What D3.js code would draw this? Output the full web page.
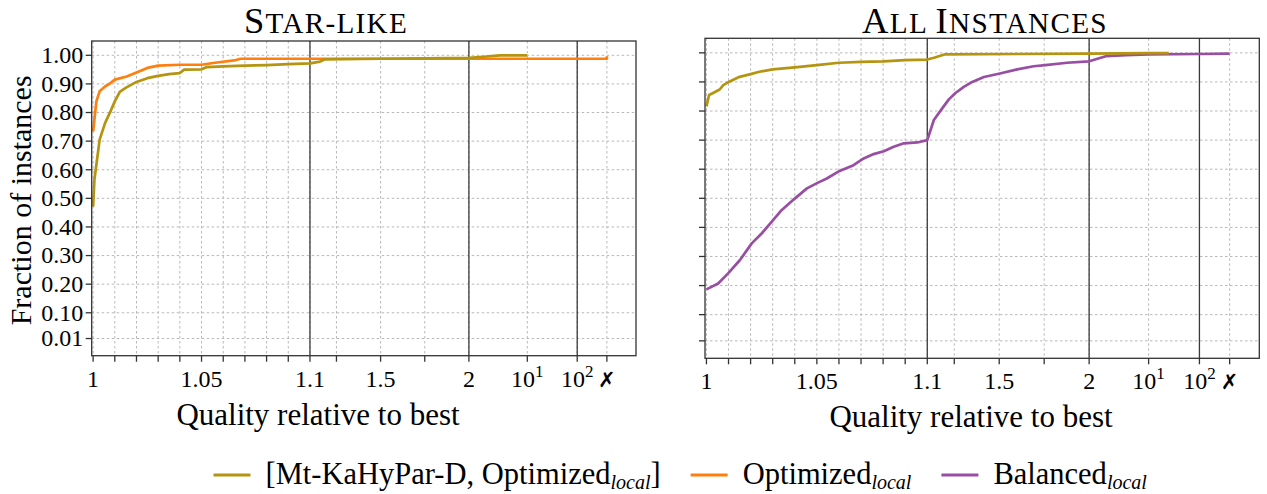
<!DOCTYPE html>
<html>
<head>
<meta charset="utf-8">
<script src="https://cdn.jsdelivr.net/npm/d3@7"></script>
<style>
  body { margin: 0; background: #fff; }
  svg { display: block; }
</style>
</head>
<body>
<svg id="chart" width="1267" height="494"></svg>
<script>
// Quality ratio used for instances that failed (drawn at the ✗ column).
const FAIL = Infinity;

// ---- Star-like instances ----
const starMtX  = [1, 1.0006, 1.0018, 1.003, 1.0055, 1.008, 1.01, 1.0123, 1.015, 1.02, 1.025, 1.03, 1.035,
                  1.04, 1.042, 1.05, 1.0525, 1.06, 1.07, 1.08, 1.09, 1.1, 1.157, 1.185, 1.5, 2, 3, 4.7, 10];
const starMtY  = [0.471, 0.565, 0.635, 0.705, 0.763, 0.804, 0.839, 0.872, 0.886, 0.907, 0.920, 0.928, 0.934,
                  0.938, 0.950, 0.951, 0.959, 0.961, 0.964, 0.966, 0.969, 0.972, 0.978, 0.986, 0.988, 0.991, 0.995, 1.0, 1.0];
const starOptX = [1, 1.0015, 1.003, 1.0055, 1.008, 1.01, 1.0155, 1.02, 1.025, 1.03, 1.04, 1.05, 1.0553,
                  1.065, 1.068, 2, 10, 100, FAIL, FAIL];
const starOptY = [0.734, 0.839, 0.874, 0.891, 0.903, 0.915, 0.926, 0.940, 0.956, 0.964, 0.967, 0.967, 0.973,
                  0.982, 0.988, 0.988, 0.988, 0.988, 0.988, 0.997];

// ---- All instances ----
const allMtX  = [1, 1.0012, 1.003, 1.006, 1.0076, 1.0101, 1.015, 1.02, 1.024, 1.03, 1.04, 1.05, 1.06,
                 1.07, 1.08, 1.09, 1.1, 1.137, 1.2, 2, 10, 25];
const allMtY  = [0.816, 0.855, 0.862, 0.874, 0.889, 0.900, 0.9175, 0.927, 0.935, 0.943, 0.950, 0.958, 0.966,
                 0.969, 0.971, 0.975, 0.977, 0.983, 0.995, 0.997, 0.999, 0.999];
const allBalX = [1, 1.0053, 1.0098, 1.0151, 1.0205, 1.025, 1.0295, 1.034, 1.040, 1.0455, 1.0503, 1.0545,
                 1.0603, 1.0666, 1.0712, 1.0757, 1.0803, 1.0848, 1.0894, 1.0955, 1.1, 1.1366, 1.183, 1.22,
                 1.257, 1.303, 1.35, 1.415, 1.504, 1.6, 1.692, 1.757, 1.877, 2, 3.21, 5.49, 10, 100, FAIL];
const allBalY = [0.187, 0.207, 0.242, 0.287, 0.345, 0.379, 0.419, 0.459, 0.499, 0.534, 0.553, 0.568,
                 0.594, 0.614, 0.637, 0.652, 0.662, 0.677, 0.689, 0.692, 0.700, 0.769, 0.809, 0.840,
                 0.862, 0.883, 0.900, 0.917, 0.929, 0.943, 0.954, 0.958, 0.966, 0.971, 0.989, 0.992, 0.995, 0.996, 0.997];

// ---- Axes ----
const xTickValues = [1, 1.01, 1.02, 1.03, 1.04, 1.05, 1.06, 1.07, 1.08, 1.09, 1.1, 1.25, 1.5, 1.75, 2, 10, 100, FAIL];
const xTickLabels = { 1: "1", 1.05: "1.05", 1.1: "1.1", 1.5: "1.5", 2: "2", 10: "10^1", 100: "10^2", [FAIL]: "✗" };
const xBreaks     = [1.1, 2, 100];
const yTickValues = [0.01, 0.1, 0.2, 0.3, 0.4, 0.5, 0.6, 0.7, 0.8, 0.9, 1.0];
const yTickLabels = ["0.01", "0.10", "0.20", "0.30", "0.40", "0.50", "0.60", "0.70", "0.80", "0.90", "1.00"];

const seriesNames  = ["[Mt-KaHyPar-D, Optimized", "Optimized", "Balanced"];
const seriesSub    = "local";
const seriesColors = ["#b59410", "#ff7f0e", "#984ea3"];

const panelTitles = ["Star-like", "All Instances"];
const xLabel = "Quality relative to best";
const yLabel = "Fraction of instances";

const SERIF = "'Liberation Serif', 'Times New Roman', serif";
const svg = d3.select("#chart").attr("font-family", SERIF);

// Piecewise x axis: linear [1,1.1], linear [1.1,2], log [2,10], log [10,100], then the ✗ column.
function makeX(x0, w) {
  const frac = [0.0026, 0.401, 0.693, 0.8003, 0.892, 0.9465];
  const px = frac.map(f => x0 + f * w);
  const s1 = d3.scaleLinear().domain([1, 1.1]).range([px[0], px[1]]);
  const s2 = d3.scaleLinear().domain([1.1, 2]).range([px[1], px[2]]);
  const s3 = d3.scaleLog().domain([2, 10]).range([px[2], px[3]]);
  const s4 = d3.scaleLog().domain([10, 100]).range([px[3], px[4]]);
  return v => !isFinite(v) ? px[5] : v <= 1.1 ? s1(v) : v <= 2 ? s2(v) : v <= 10 ? s3(v) : s4(v);
}

// Small caps drawn by hand: capitals at full size, the rest upper-cased at a smaller size.
function smallCaps(sel, str, size) {
  const parts = str.match(/([A-Z]+|[^A-Z]+)/g);
  parts.forEach(part => {
    const isCap = /^[A-Z]/.test(part);
    sel.append("tspan")
      .attr("font-size", isCap ? size : size * 0.8)
      .text(isCap ? part : part.toUpperCase());
  });
}

const panels = [
  { x0: 91.7, y0: 41,   w: 544.3, h: 314.7, yLabels: true,  titleX: 326, labelX: 318,
    series: [[starOptX, starOptY, 1], [starMtX, starMtY, 0]] },
  { x0: 705,  y0: 38.3, w: 554.3, h: 320,   yLabels: false, titleX: 985, labelX: 971,
    series: [[allBalX, allBalY, 2], [allMtX, allMtY, 0]] }
];

panels.forEach((p, i) => {
  const x = makeX(p.x0, p.w);
  const y = d3.scaleLinear().domain([-0.05, 1.05]).range([p.y0 + p.h, p.y0]);
  const g = svg.append("g");
  const bottom = p.y0 + p.h, right = p.x0 + p.w;

  // grid
  g.selectAll(".gy").data(yTickValues).join("line")
    .attr("x1", p.x0).attr("x2", right)
    .attr("y1", d => y(d)).attr("y2", d => y(d))
    .attr("stroke", "#b8b8b8").attr("stroke-width", 1).attr("stroke-dasharray", "2.5,2.5");
  g.selectAll(".gx").data(xTickValues).join("line")
    .attr("x1", d => x(d)).attr("x2", d => x(d))
    .attr("y1", p.y0).attr("y2", bottom)
    .attr("stroke", "#b8b8b8").attr("stroke-width", 1).attr("stroke-dasharray", "2.5,2.5");

  // segment separators
  g.selectAll(".brk").data(xBreaks).join("line")
    .attr("x1", d => x(d)).attr("x2", d => x(d))
    .attr("y1", p.y0).attr("y2", bottom)
    .attr("stroke", "#3a3a3a").attr("stroke-width", 1.3);

  // series
  const line = d3.line().x(d => x(d[0])).y(d => y(d[1]));
  p.series.forEach(([xs, ys, ci]) => {
    g.append("path")
      .datum(xs.map((v, k) => [v, ys[k]]))
      .attr("d", line)
      .attr("fill", "none")
      .attr("stroke", seriesColors[ci])
      .attr("stroke-width", 2.7)
      .attr("stroke-linejoin", "round");
  });

  // frame
  g.append("rect").attr("x", p.x0).attr("y", p.y0).attr("width", p.w).attr("height", p.h)
    .attr("fill", "none").attr("stroke", "#333").attr("stroke-width", 1.3);

  // y ticks
  g.selectAll(".ty").data(yTickValues).join("line")
    .attr("x1", p.x0 - 6).attr("x2", p.x0)
    .attr("y1", d => y(d)).attr("y2", d => y(d))
    .attr("stroke", "#333").attr("stroke-width", 1.3);
  if (p.yLabels) {
    g.selectAll(".ly").data(yTickValues).join("text")
      .attr("x", p.x0 - 8.5).attr("y", d => y(d))
      .attr("dy", "0.33em").attr("text-anchor", "end")
      .attr("font-family", SERIF).attr("font-size", 24)
      .text((d, k) => yTickLabels[k]);
    g.append("text")
      .attr("transform", `translate(31,${p.y0 + p.h / 2 + 2}) rotate(-90)`)
      .attr("text-anchor", "middle").attr("font-family", SERIF).attr("font-size", 30)
      .text(yLabel);
  }

  // x ticks
  g.selectAll(".tx").data(xTickValues).join("line")
    .attr("x1", d => x(d)).attr("x2", d => x(d))
    .attr("y1", bottom).attr("y2", bottom + 6)
    .attr("stroke", "#333").attr("stroke-width", 1.3);
  const labelled = xTickValues.filter(v => xTickLabels[v] !== undefined);
  labelled.forEach(v => {
    const lab = xTickLabels[v];
    const t = g.append("text").attr("x", x(v)).attr("y", bottom + 31)
      .attr("text-anchor", "middle").attr("font-family", SERIF).attr("font-size", 24);
    if (lab.includes("^")) {
      const [base, exp] = lab.split("^");
      t.append("tspan").text(base);
      t.append("tspan").attr("dy", -10).attr("font-size", 17).text(exp);
    } else if (lab === "✗") {
      t.attr("font-family", "DejaVu Sans").attr("font-weight", "bold").attr("font-size", 21)
        .attr("font-style", "italic").text(lab);
    } else {
      t.text(lab);
    }
  });

  // x label
  g.append("text").attr("x", p.labelX).attr("y", bottom + 69)
    .attr("text-anchor", "middle").attr("font-family", SERIF).attr("font-size", 31).text(xLabel);

  // title
  const title = g.append("text").attr("x", p.titleX).attr("y", 33)
    .attr("text-anchor", "middle").attr("font-family", SERIF)
    .attr("letter-spacing", 1.3);
  smallCaps(title, panelTitles[i], 36.5);
});

// legend
const legend = svg.append("g");
let lx = 213.5;
const ly = 475;
seriesNames.forEach((name, k) => {
  legend.append("line").attr("x1", lx).attr("x2", lx + 37).attr("y1", ly).attr("y2", ly)
    .attr("stroke", seriesColors[k]).attr("stroke-width", 3);
  lx += 37 + 15;
  const t = legend.append("text").attr("x", lx).attr("y", ly + 9)
    .attr("font-family", SERIF).attr("font-size", 30.5);
  t.append("tspan").text(name);
  t.append("tspan").attr("dy", 5).attr("font-size", 20).attr("font-style", "italic").text(seriesSub);
  if (k === 0) t.append("tspan").attr("dy", -5).text("]");
  lx += t.node().getComputedTextLength() + 30;
});
</script>
</body>
</html>
